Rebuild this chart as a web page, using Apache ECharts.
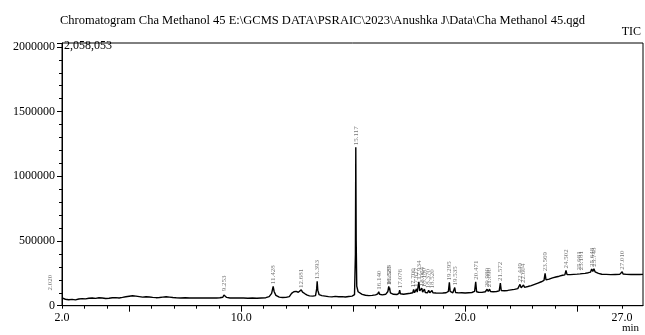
<!DOCTYPE html>
<html><head><meta charset="utf-8">
<script src="https://cdn.jsdelivr.net/npm/echarts@6/dist/echarts.min.js"></script>
<style>html,body{margin:0;padding:0;background:#fff}#c{width:645px;height:335px}</style>
</head><body><div id="c"></div>
<script>
const traceTime = [2.00,2.02,2.06,2.15,2.30,2.45,2.60,2.75,2.90,3.05,3.20,3.35,3.50,3.65,3.80,3.95,4.10,4.25,4.40,4.55,4.70,4.85,5.00,5.15,5.30,5.45,5.60,5.75,5.90,6.05,6.20,6.35,6.50,6.65,6.80,6.95,7.10,7.30,7.50,7.70,7.90,8.10,8.30,8.50,8.70,8.90,9.05,9.18,9.23,9.253,9.28,9.35,9.50,9.70,9.90,10.10,10.30,10.50,10.70,10.90,11.10,11.25,11.36,11.428,11.47,11.55,11.70,11.85,12.00,12.15,12.25,12.35,12.45,12.55,12.63,12.681,12.74,12.85,12.95,13.05,13.20,13.32,13.37,13.393,13.42,13.48,13.60,13.75,13.90,14.05,14.20,14.35,14.50,14.65,14.80,14.95,15.06,15.10,15.117,15.135,15.16,15.22,15.30,15.40,15.55,15.70,15.85,16.00,16.10,16.140,16.18,16.30,16.45,16.55,16.588,16.61,16.625,16.66,16.80,16.95,17.04,17.076,17.11,17.25,17.40,17.55,17.66,17.700,17.74,17.80,17.827,17.86,17.90,17.934,17.97,18.03,18.064,18.10,18.15,18.180,18.22,18.32,18.370,18.42,18.48,18.520,18.56,18.70,18.85,19.00,19.15,19.25,19.295,19.33,19.45,19.535,19.57,19.70,19.85,20.00,20.15,20.30,20.42,20.471,20.51,20.60,20.75,20.90,20.980,21.03,21.06,21.090,21.13,21.25,21.40,21.52,21.572,21.61,21.75,21.90,22.05,22.20,22.35,22.40,22.449,22.50,22.56,22.604,22.65,22.80,22.95,23.10,23.25,23.40,23.52,23.569,23.61,23.75,23.90,24.05,24.20,24.35,24.45,24.502,24.55,24.70,24.85,25.00,25.081,25.13,25.181,25.22,25.35,25.50,25.60,25.648,25.70,25.748,25.80,25.95,26.10,26.30,26.50,26.70,26.90,26.97,27.010,27.05,27.20,27.40,27.60,27.80,27.94];
const traceSignal = [60000,64000,57000,50000,46000,49000,45000,52000,55000,53000,58000,60000,57000,61000,59000,56000,58000,61000,62000,60000,64000,69000,73000,77000,74000,70000,66000,69000,67000,64000,62000,63000,66000,69000,66000,63000,61000,60000,61000,60000,59000,60000,59000,60000,59000,60000,61000,65000,82000,96000,78000,64000,60000,59000,60000,59000,58000,59000,58000,60000,62000,70000,95000,150000,110000,80000,66000,63000,64000,70000,95000,108000,111000,104000,110000,122000,105000,92000,82000,76000,74000,78000,130000,188000,120000,85000,78000,74000,70000,68000,72000,69000,70000,67000,71000,74000,85000,400000,1224000,500000,150000,108000,96000,87000,81000,78000,80000,84000,92000,108000,88000,84000,88000,110000,150000,120000,140000,100000,88000,86000,95000,120000,92000,88000,92000,96000,100000,125000,100000,104000,130000,105000,110000,185000,115000,108000,135000,105000,104000,128000,102000,100000,120000,100000,102000,118000,100000,98000,97000,98000,100000,110000,180000,110000,100000,140000,102000,99000,100000,98000,100000,102000,110000,185000,108000,104000,103000,108000,127000,110000,112000,128000,110000,108000,110000,115000,175000,118000,116000,118000,122000,126000,132000,136000,165000,138000,140000,160000,142000,148000,155000,165000,175000,185000,195000,250000,200000,205000,215000,222000,228000,235000,238000,272000,240000,240000,242000,244000,256000,246000,258000,248000,250000,255000,260000,283000,265000,286000,262000,250000,243000,242000,240000,241000,242000,248000,262000,245000,242000,241000,242000,241000,242000];
const peakNames = ["2.020","9.253","11.428","12.681","13.393","15.117","16.140","16.588","16.625","17.076","17.700","17.827","17.934","18.064","18.180","18.370","18.520","19.295","19.535","20.471","20.980","21.090","21.572","22.449","22.604","23.569","24.502","25.081","25.181","25.648","25.748","27.010"];
const xTickLabels = [2, 10, 20, 27];
const xMajorTicks = [5, 10, 15, 20, 25];
const yTickStep = 500000;

const trace = traceTime.map((t, i) => [t, traceSignal[i]]);
const peaks = peakNames.map(n => {
  const t = Number(n);
  const idx = traceTime.indexOf(t);
  const item = { value: [t, traceSignal[idx]], name: n };
  if (n === "2.020") item.label = { offset: [5, -12] };
  return item;
});
const minorTicks = [];
for (let v = 2; v <= 27; v++) minorTicks.push(v);

const serif = 'Liberation Serif';
const chart = echarts.init(document.getElementById('c'), null, { renderer: 'canvas' });
chart.setOption({
  animation: false,
  backgroundColor: '#fff',
  grid: { left: 62, right: 2, top: 43, bottom: 29.3, show: true, borderColor: '#000', borderWidth: 1 },
  graphic: [
    { type: 'text', left: 'center', top: 14, style: { text: 'Chromatogram Cha Methanol 45 E:\\GCMS DATA\\PSRAIC\\2023\\Anushka J\\Data\\Cha Methanol 45.qgd', font: '12.5px "Liberation Serif"', fill: '#000' } },
    { type: 'text', right: 4, top: 26, style: { text: 'TIC', font: '12px "Liberation Serif"', fill: '#000' } },
    { type: 'text', left: 64, top: 40, style: { text: '2,058,053', font: '12px "Liberation Serif"', fill: '#000' } },
    { type: 'text', right: 6, top: 323, style: { text: 'min', font: '11px "Liberation Serif"', fill: '#000' } }
  ],
  xAxis: [{
    type: 'value', min: 2, max: 27.94, interval: 1,
    axisLine: { show: true, lineStyle: { color: '#000', width: 1 } },
    axisTick: { show: true, length: 3, customValues: minorTicks, lineStyle: { color: '#000' } },
    axisLabel: { customValues: xTickLabels, formatter: v => Number(v).toFixed(1), color: '#000', fontFamily: serif, fontSize: 12, margin: 6 },
    splitLine: { show: false }
  }, {
    type: 'value', min: 2, max: 27.94, position: 'bottom', gridIndex: 0,
    axisLine: { show: false },
    axisTick: { show: true, length: 6, customValues: xMajorTicks, lineStyle: { color: '#000' } },
    axisLabel: { show: false },
    splitLine: { show: false }
  }],
  yAxis: {
    type: 'value', min: 0, max: 2030000, interval: yTickStep,
    axisLine: { show: true, lineStyle: { color: '#000', width: 1 } },
    axisTick: { show: true, length: 5, lineStyle: { color: '#000' } },
    minorTick: { show: true, splitNumber: 5, length: 3, lineStyle: { color: '#000' } },
    axisLabel: { formatter: v => String(v), color: '#000', fontFamily: serif, fontSize: 12, margin: 7, showMaxLabel: false },
    splitLine: { show: false }, minorSplitLine: { show: false }
  },
  series: [{
    type: 'line', data: trace, showSymbol: false, symbol: 'none',
    lineStyle: { color: '#000', width: 1.4 }, z: 3
  }, {
    type: 'scatter', data: peaks, symbolSize: 0, z: 4,
    label: {
      show: true, position: 'top', distance: 2, rotate: 90, align: 'left', verticalAlign: 'middle',
      formatter: p => p.name, fontFamily: serif, fontSize: 7, color: '#555'
    }
  }]
});
</script></body></html>
